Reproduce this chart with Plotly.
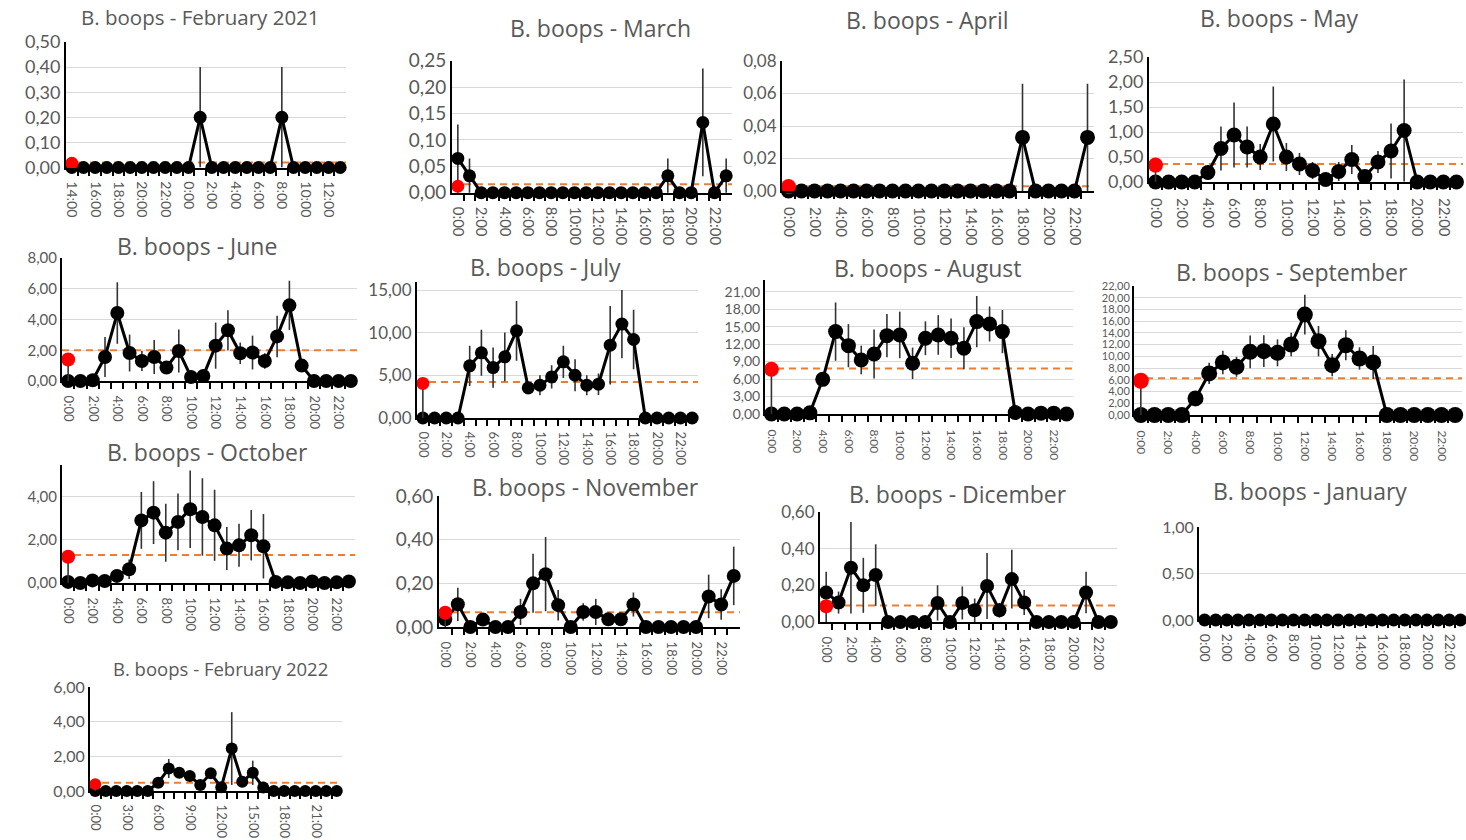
import plotly.graph_objects as go

# Hour labels on the category axis
HOURS = ["0:00", "1:00", "2:00", "3:00", "4:00", "5:00", "6:00", "7:00",
         "8:00", "9:00", "10:00", "11:00", "12:00", "13:00", "14:00", "15:00",
         "16:00", "17:00", "18:00", "19:00", "20:00", "21:00", "22:00", "23:00"]
HOURS_FROM_14 = HOURS[14:] + HOURS[:14]

# Mean abundance per hour, standard error, and reference level (dashed line)
feb21_vals = [0, 0, 0, 0, 0, 0, 0, 0, 0, 0, 0, 0.20, 0, 0, 0, 0, 0, 0, 0.20, 0, 0, 0, 0, 0]
feb21_err = [0, 0, 0, 0, 0, 0, 0, 0, 0, 0, 0, 0.20, 0, 0, 0, 0, 0, 0, 0.20, 0, 0, 0, 0, 0]
feb21_ref = 0.02

mar_vals = [0.065, 0.032, 0, 0, 0, 0, 0, 0, 0, 0, 0, 0, 0, 0, 0, 0, 0, 0, 0.032, 0, 0, 0.133, 0, 0.032]
mar_err = [0.064, 0.033, 0, 0, 0, 0, 0, 0, 0, 0, 0, 0, 0, 0, 0, 0, 0, 0, 0.033, 0, 0, 0.102, 0, 0.033]
mar_ref = 0.016

apr_vals = [0, 0, 0, 0, 0, 0, 0, 0, 0, 0, 0, 0, 0, 0, 0, 0, 0, 0, 0.033, 0, 0, 0, 0, 0.033]
apr_err = [0, 0, 0, 0, 0, 0, 0, 0, 0, 0, 0, 0, 0, 0, 0, 0, 0, 0, 0.033, 0, 0, 0, 0, 0.033]
apr_ref = 0.003

may_vals = [0, 0, 0, 0, 0.19, 0.67, 0.94, 0.70, 0.50, 1.16, 0.50, 0.36, 0.23, 0.05, 0.21, 0.45,
            0.11, 0.40, 0.62, 1.03, 0, 0, 0, 0]
may_err = [0, 0, 0, 0, 0.15, 0.44, 0.65, 0.41, 0.26, 0.75, 0.28, 0.22, 0.17, 0.05, 0.19, 0.29,
           0.10, 0.22, 0.55, 1.02, 0, 0, 0, 0]
may_ref = 0.36

jun_vals = [0, 0, 0.05, 1.56, 4.42, 1.82, 1.30, 1.56, 0.87, 1.95, 0.26, 0.33, 2.30, 3.30, 1.80, 1.85,
            1.30, 2.90, 4.92, 1.00, 0, 0, 0, 0]
jun_err = [0, 0, 0.05, 1.30, 2.00, 1.20, 0.65, 1.10, 0.30, 1.40, 0.20, 0.20, 1.50, 1.30, 0.70, 1.10,
           0.50, 1.35, 1.60, 0.40, 0, 0, 0, 0]
jun_ref = 2.0

jul_vals = [0, 0, 0, 0, 6.11, 7.64, 5.91, 7.17, 10.22, 3.53, 3.84, 4.82, 6.58, 5.01, 3.84, 3.96,
            8.54, 11.01, 9.20, 0, 0, 0, 0, 0]
jul_err = [0, 0, 0, 0, 2.35, 2.70, 2.35, 2.85, 3.50, 0.50, 1.17, 1.37, 1.90, 1.88, 1.17, 1.25,
           4.60, 4.00, 3.50, 0, 0, 0, 0, 0]
jul_ref = 4.23

aug_vals = [0, 0, 0, 0.20, 5.95, 14.14, 11.73, 9.27, 10.30, 13.45, 13.57, 8.70, 13.00, 13.57, 13.00,
            11.28, 15.86, 15.45, 14.14, 0.25, 0, 0.15, 0.15, 0]
aug_err = [0, 0, 0, 0, 1.00, 5.00, 3.70, 2.46, 4.20, 3.70, 4.00, 2.70, 2.90, 3.40, 3.40,
           3.60, 4.40, 3.00, 3.70, 0, 0, 0, 0, 0]
aug_ref = 7.83

sep_vals = [0, 0, 0, 0, 2.83, 7.09, 8.96, 8.22, 10.77, 10.88, 10.60, 12.02, 17.12, 12.59, 8.50,
            11.90, 9.64, 8.96, 0, 0, 0, 0, 0, 0]
sep_err = [0, 0, 0, 0, 1.00, 1.80, 2.00, 1.70, 2.80, 2.70, 2.30, 2.00, 3.40, 2.60, 1.90,
           2.55, 1.90, 2.80, 0, 0, 0, 0, 0, 0]
sep_ref = 6.25

oct_vals = [0.05, 0, 0.12, 0.09, 0.33, 0.64, 2.91, 3.27, 2.34, 2.84, 3.43, 3.07, 2.68, 1.60, 1.75,
            2.22, 1.71, 0.05, 0.03, 0, 0.07, 0, 0.03, 0.07]
oct_err = [0, 0, 0, 0, 0.25, 0.45, 1.32, 1.46, 1.35, 1.32, 1.80, 1.80, 1.65, 1.00, 1.00,
           1.17, 1.50, 0, 0, 0, 0, 0, 0, 0]
oct_ref = 1.30

nov_vals = [0.035, 0.104, 0, 0.034, 0, 0, 0.069, 0.20, 0.242, 0.10, 0, 0.069, 0.069, 0.035, 0.035,
            0.103, 0, 0, 0, 0, 0, 0.14, 0.103, 0.234]
nov_err = [0.02, 0.076, 0, 0.02, 0, 0, 0.06, 0.135, 0.17, 0.07, 0, 0.04, 0.06, 0.02, 0.02,
           0.055, 0, 0, 0, 0, 0, 0.10, 0.07, 0.134]
nov_ref = 0.068

dec_vals = [0.161, 0.106, 0.296, 0.20, 0.256, 0, 0, 0, 0, 0.104, 0, 0.104, 0.064, 0.197, 0.064,
            0.234, 0.106, 0, 0, 0, 0, 0.161, 0, 0]
dec_err = [0.113, 0.06, 0.25, 0.15, 0.168, 0, 0, 0, 0, 0.096, 0, 0.09, 0.064, 0.18, 0.04,
           0.16, 0.068, 0, 0, 0, 0, 0.113, 0, 0]
dec_ref = 0.09

jan_vals = [0] * 24
jan_err = [0] * 24
jan_ref = 0

feb22_vals = [0, 0, 0, 0, 0, 0, 0.48, 1.30, 1.05, 0.86, 0.35, 1.02, 0.21, 2.45, 0.54, 1.05,
              0.20, 0, 0, 0, 0, 0, 0, 0]
feb22_err = [0, 0, 0, 0, 0, 0, 0.10, 0.55, 0.30, 0.30, 0.20, 0.30, 0.10, 2.10, 0.20, 0.70,
             0.10, 0, 0, 0, 0, 0, 0, 0]
feb22_ref = 0.48

# title, values, errors, reference, hour labels, label step, y max, y step
PANELS = [
    ("B. boops - February 2021", feb21_vals, feb21_err, feb21_ref, HOURS_FROM_14, 2, 0.5, 0.1),
    ("B. boops - March", mar_vals, mar_err, mar_ref, HOURS, 2, 0.25, 0.05),
    ("B. boops - April", apr_vals, apr_err, apr_ref, HOURS, 2, 0.08, 0.02),
    ("B. boops - May", may_vals, may_err, may_ref, HOURS, 2, 2.5, 0.5),
    ("B. boops - June", jun_vals, jun_err, jun_ref, HOURS, 2, 8, 2),
    ("B. boops - July", jul_vals, jul_err, jul_ref, HOURS, 2, 16, 5),
    ("B. boops - August", aug_vals, aug_err, aug_ref, HOURS, 2, 23, 3),
    ("B. boops - September", sep_vals, sep_err, sep_ref, HOURS, 2, 22, 2),
    ("B. boops - October", oct_vals, oct_err, oct_ref, HOURS, 2, 5.5, 2),
    ("B. boops - November", nov_vals, nov_err, nov_ref, HOURS, 2, 0.6, 0.2),
    ("B. boops - Dicember", dec_vals, dec_err, dec_ref, HOURS, 2, 0.6, 0.2),
    ("B. boops - January", jan_vals, jan_err, jan_ref, HOURS, 2, 1, 0.5),
    ("B. boops - February 2022", feb22_vals, feb22_err, feb22_ref, HOURS, 3, 6, 2),
]

# Placement in pixels: plot left, plot right, zero line y, top of axis y,
# title centre x, title centre y, title size, y tick size, x tick size
W, H = 1466, 840
PLACEMENT = [
    (66, 346, 167.5, 42, 200, 17, 20.5, 18, 14),
    (452, 732, 192.7, 60.7, 600, 28, 23, 19, 15),
    (782, 1094, 191, 61, 927, 20, 23, 17, 15),
    (1149, 1463, 182, 57, 1279, 18, 23, 18, 15),
    (62, 357, 381, 258, 197, 246, 23, 15, 13),
    (417, 698, 418, 281.5, 545, 267, 23, 17, 13),
    (765, 1073, 414, 280, 927, 268, 23, 14, 12),
    (1134, 1462, 415, 286, 1292, 272, 23, 11, 12),
    (62, 355, 583, 464.7, 207, 452, 23, 15, 13),
    (439, 740, 627, 496, 585, 487, 23, 19, 13),
    (820, 1117, 622, 512, 958, 494, 23, 17, 13),
    (1199, 1466, 620, 527, 1310, 491, 23, 16, 14),
    (90, 342, 791, 687, 220, 668, 18.5, 16, 13),
]

TICK_FONT = "Lato, Calibri, sans-serif"
TITLE_FONT = "'Open Sans', Lato, sans-serif"
GREY_TEXT = "#595959"

fig = go.Figure()
annotations = []

for i, (panel, place) in enumerate(zip(PANELS, PLACEMENT), start=1):
    title, vals, errs, ref, labels, step, ymax, ystep = panel
    x0, x1, yb, yt, tcx, tcy, tsize, ysz, xsz = place
    xs = list(range(len(vals)))
    mean_val = sum(vals) / len(vals)
    cat_w = (x1 - x0) / len(vals)
    msize = round(cat_w * 1.15)
    xa = f"x{i}"
    ya = f"y{i}"

    # reference level
    fig.add_trace(go.Scatter(
        x=[-0.5, len(vals) - 0.5], y=[ref, ref], mode="lines",
        line=dict(color="#ED7D31", width=2, dash="7px,5px"),
        xaxis=xa, yaxis=ya, hoverinfo="skip", cliponaxis=False))

    # hourly means with error bars
    fig.add_trace(go.Scatter(
        x=xs, y=vals, mode="lines+markers",
        line=dict(color="black", width=3),
        marker=dict(color="black", size=msize),
        error_y=dict(type="data", array=errs, color="#333333", thickness=1.6, width=0),
        xaxis=xa, yaxis=ya, cliponaxis=False))

    # overall mean of the month
    if mean_val > 0:
        fig.add_trace(go.Scatter(
            x=[0], y=[mean_val], mode="markers",
            marker=dict(color="#FF0000", size=msize),
            error_y=dict(type="data", symmetric=False, array=[0], arrayminus=[mean_val],
                         color="#333333", thickness=1.6, width=0),
            xaxis=xa, yaxis=ya, cliponaxis=False))

    fig.update_layout({
        f"xaxis{i}": dict(
            domain=[x0 / W, x1 / W], anchor=ya, automargin=False,
            range=[-0.5, len(vals) - 0.5],
            tickmode="array",
            tickvals=xs[::step], ticktext=labels[::step],
            tickangle=90, ticks="", ticklabelstandoff=round(msize / 2) + 3,
            tickfont=dict(family=TICK_FONT, size=xsz, color=GREY_TEXT),
            showline=True, linecolor="black", linewidth=2,
            showgrid=False, zeroline=False,
            minor=dict(tickmode="array", tickvals=[k + 0.5 for k in xs[:-1]],
                       ticks="outside", ticklen=6, tickcolor="black", tickwidth=1.5,
                       showgrid=False),
        ),
        f"yaxis{i}": dict(
            domain=[1 - yb / H, 1 - yt / H], anchor=xa, automargin=False,
            range=[0, ymax], tickmode="linear", tick0=0, dtick=ystep,
            tickformat=".2f", ticks="",
            tickfont=dict(family=TICK_FONT, size=ysz, color=GREY_TEXT),
            showline=True, linecolor="black", linewidth=2,
            showgrid=True, gridcolor="#D9D9D9", gridwidth=1, zeroline=False,
        ),
    })

    annotations.append(dict(
        text=title, x=tcx / W, y=1 - tcy / H, xref="paper", yref="paper",
        xanchor="center", yanchor="middle", showarrow=False,
        font=dict(family=TITLE_FONT, size=tsize, color=GREY_TEXT)))

fig.update_layout(
    width=W, height=H,
    margin=dict(l=0, r=0, t=0, b=0, pad=0, autoexpand=False),
    paper_bgcolor="white", plot_bgcolor="white",
    showlegend=False, separators=", ",
    annotations=annotations,
    font=dict(family=TICK_FONT, color=GREY_TEXT),
)

fig.write_html("out.html")
